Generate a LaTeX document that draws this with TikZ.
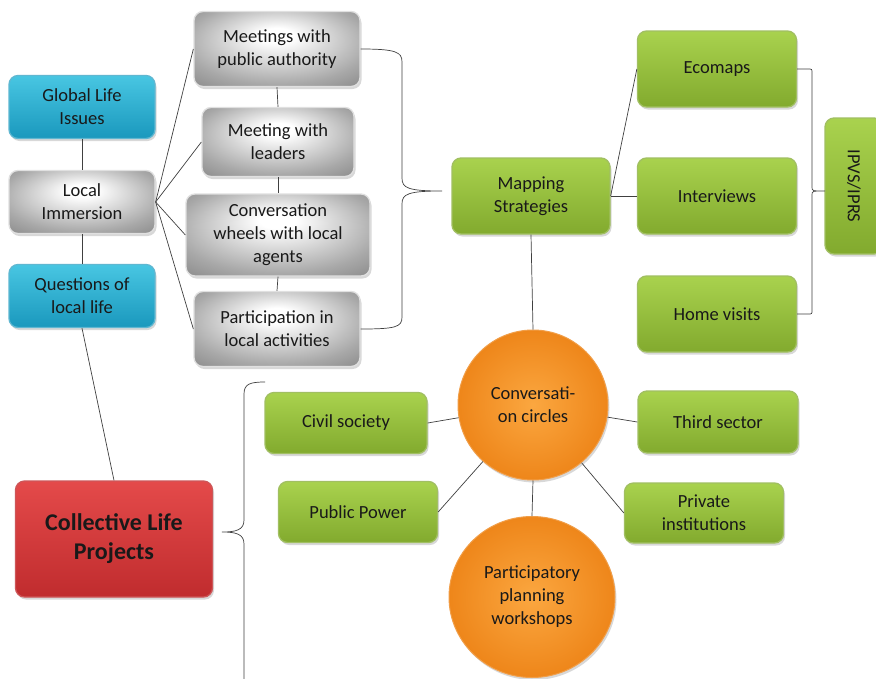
\documentclass[tikz,border=0pt]{standalone}
\usepackage{fontspec}
\setmainfont{Carlito}
\usetikzlibrary{shadows,calc,shapes.geometric}
\definecolor{cyanA}{HTML}{48C6E2}
\definecolor{cyanB}{HTML}{1A98BD}
\definecolor{grnA}{HTML}{A9D24E}
\definecolor{grnB}{HTML}{82AA2E}
\definecolor{redA}{HTML}{E44A4A}
\definecolor{redB}{HTML}{C02C2E}
\definecolor{orgA}{HTML}{FBA740}
\definecolor{orgB}{HTML}{EE861A}
\definecolor{gryM}{HTML}{A8A8A8}
\definecolor{gryE}{HTML}{7E7E7E}
\definecolor{lineC}{HTML}{404040}
\pgfdeclareradialshading{grayrad}{\pgfpoint{0bp}{10bp}}{color(0bp)=(white); color(5bp)=(white); color(28bp)=(gryM); color(42bp)=(gryE); color(50bp)=(gryE)}
\begin{document}
\begin{tikzpicture}[x=1pt,y=-1pt,
  box/.style={rounded corners=9pt, align=center, font=\fontsize{18.5}{23}\selectfont,
    text=black!90, line width=1.3pt, inner sep=2pt,
    drop shadow={opacity=0.3,shadow xshift=1.5pt,shadow yshift=-2.5pt}},
  bluebox/.style={box, top color=cyanA, bottom color=cyanB, draw=cyanB!70!white,
    minimum width=146pt, minimum height=63pt},
  graybox/.style={box, shading=grayrad, draw=black!12},
  greenbox/.style={box, top color=grnA, bottom color=grnB, draw=grnB!75!white},
  redbox/.style={box, top color=redA, bottom color=redB, draw=redB!80!white},
  orgcirc/.style={align=center, font=\fontsize{18.5}{23}\selectfont, text=black!90,
    inner color=orgA, outer color=orgB, draw=orgB!80!white, line width=1pt, inner sep=1pt,
    drop shadow={opacity=0.3,shadow xshift=1.5pt,shadow yshift=-2.5pt}},
  conn/.style={draw=lineC, line width=0.7pt}
]
\fill[white] (0,0) rectangle (876,678);
\useasboundingbox (0,0) rectangle (876,678);

% left column
\node[bluebox] (gli) at (82,107) {Global Life\\Issues};
\node[graybox, minimum width=146pt, minimum height=63pt] (li) at (82,202) {Local\\Immersion};
\node[bluebox] (qll) at (82,296) {Questions of\\local life};

% gray column
\node[graybox, minimum width=166pt, minimum height=75pt] (mpa) at (277,49) {Meetings with\\public authority};
\node[graybox, minimum width=152pt, minimum height=69pt] (ml) at (278,142) {Meeting with\\leaders};
\node[graybox, minimum width=184pt, minimum height=82pt] (cw) at (278,235) {Conversation\\wheels with local\\agents};
\node[graybox, minimum width=166pt, minimum height=75pt] (pla) at (277,329) {Participation in\\local activities};

% mapping
\node[greenbox, minimum width=158pt, minimum height=76pt] (ms) at (531,196) {Mapping\\Strategies};
\node[greenbox, minimum width=159pt, minimum height=76pt] (eco) at (717,69) {Ecomaps};
\node[greenbox, minimum width=159pt, minimum height=76pt] (int) at (717,196) {Interviews};
\node[greenbox, minimum width=159pt, minimum height=76pt] (hv) at (717,314) {Home visits};
\node[greenbox, rotate=-90, minimum width=136pt, minimum height=58pt] (ipvs) at (854,186) {IPVS/IPRS};

% bottom
\node[orgcirc, circle, minimum size=150pt] (cc) at (533,405) {Conversati-\\on circles};
\node[orgcirc, ellipse, minimum width=166pt, minimum height=161pt] (ppw) at (532,597) {Participatory\\planning\\workshops};
\node[greenbox, minimum width=162pt, minimum height=61pt] (cs) at (346,423) {Civil society};
\node[greenbox, minimum width=160pt, minimum height=62pt] (ts) at (718,422) {Third sector};
\node[greenbox, minimum width=159pt, minimum height=61pt] (pp) at (358,512) {Public Power};
\node[greenbox, minimum width=159pt, minimum height=60pt] (pi) at (704,513) {Private\\institutions};
\node[redbox, minimum width=197pt, minimum height=116pt, font=\fontsize{24}{29}\selectfont\bfseries] (clp) at (114,539) {Collective Life\\Projects};

% connectors
\draw[conn] (gli) -- (li);
\draw[conn] (li) -- (qll);
\draw[conn] (qll.south) -- (clp.north);
\draw[conn] (li.east) -- (mpa.west);
\draw[conn] (li.east) -- (ml.west);
\draw[conn] (li.east) -- (cw.west);
\draw[conn] (li.east) -- (pla.west);
\draw[conn] (mpa.south) -- (ml.north);
\draw[conn] (ml.south) -- (cw.north);
\draw[conn] (cw.south) -- (pla.north);
\draw[conn] (ms.east) -- (eco.west);
\draw[conn] (ms.east) -- (int.west);
\draw[conn] (ms.south) -- (cc.north);
\draw[conn] (cs.east) -- (cc);
\draw[conn] (ts.west) -- (cc);
\draw[conn] (pp.east) -- (cc);
\draw[conn] (pi.west) -- (cc);
\draw[conn] (cc.south) -- (ppw.north);

% brace 1
\coordinate (t1) at (442,191);
\draw[conn] (mpa.east) .. controls (396,49) and (402,52) .. (402,62) -- (402,178)
  .. controls (402,188) and (408,191) .. (t1)
  .. controls (408,191) and (402,194) .. (402,204) -- (402,317)
  .. controls (402,327) and (396,329) .. (pla.east);
% bracket 2
\coordinate (t2) at (825,191);
\draw[conn] (eco.east) -- (808,69) .. controls (812,69) .. (812,73) -- (812,187)
  .. controls (812,191) .. (t2)
  .. controls (812,191) .. (812,195) -- (812,310)
  .. controls (812,314) .. (808,314) -- (hv.east);
% brace 3
\coordinate (t3) at (222,532);
\draw[conn] (265,382) .. controls (250,382) and (244,384) .. (244,394) -- (244,520)
  .. controls (244,530) and (236,532) .. (t3)
  .. controls (236,532) and (244,534) .. (244,544) -- (244,682);
\end{tikzpicture}
\end{document}
